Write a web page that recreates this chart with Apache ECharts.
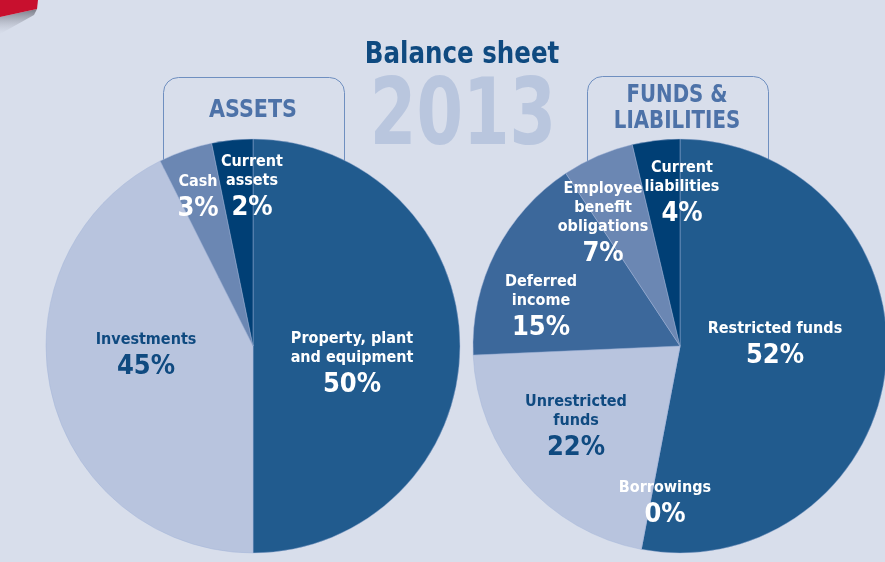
<!DOCTYPE html>
<html>
<head>
<meta charset="utf-8">
<script src="https://cdn.jsdelivr.net/npm/echarts@6/dist/echarts.min.js"></script>
<style>html,body{margin:0;padding:0;background:#d8deeb}#c{width:885px;height:562px}</style>
</head>
<body>
<div id="c"></div>
<script>
// ---- data ----
const assetNames = ['Property, plant\nand equipment', 'Investments', 'Cash', 'Current\nassets'];
const assetValues = [50, 42.6, 4.2, 3.2];          // slice shares as drawn
const assetLabels = ['50%', '45%', '3%', '2%'];    // printed percentages

const fundNames = ['Restricted funds', 'Borrowings', 'Unrestricted\nfunds', 'Deferred\nincome', 'Employee\nbenefit\nobligations', 'Current\nliabilities'];
const fundValues = [53, 0, 21.3, 16.4, 5.6, 3.7];
const fundLabels = ['52%', '0%', '22%', '15%', '7%', '4%'];

const titleText = 'Balance sheet';
const yearText = '2013';

// ---- styles ----
const FONT = "'Liberation Sans Narrow', 'DejaVu Sans Condensed', 'Open Sans', sans-serif";
const NAVY = '#0f4a80';
const assetColors = ['#215b8e', '#b8c4de', '#6b87b3', '#003f75'];
const assetDark = [true, false, true, true];
const fundColors = ['#215b8e', '#215b8e', '#b8c4de', '#3c689b', '#6b87b3', '#003f75'];
const fundDark = [true, true, false, true, true, true];
const R = 207;
const leftCenter = [253, 346];
const rightCenter = [680, 346];
// label block placement (offset of block top-center from pie center)
const assetNudge = [[99, -17], [-107, -16], [-55, -174], [-1, -194]];
const fundNudge = [[95, -27], [-15, 132], [-104, 46], [-139, -74], [-77, -167], [2, -188]];

function makePie(names, values, labels, colors, dark, center, nudge) {
  return {
    type: 'pie',
    radius: R,
    center: center,
    startAngle: 90,
    clockwise: true,
    silent: true,
    avoidLabelOverlap: false,
    minShowLabelAngle: 0,
    itemStyle: { borderColor: 'rgba(160,180,215,0.55)', borderWidth: 0.8 },
    label: {
      show: true,
      position: 'inside',
      formatter: function (p) {
        const d = dark[p.dataIndex];
        const lines = names[p.dataIndex].split('\n').map(l => '{' + (d ? 'nW' : 'nD') + '|' + l + '}');
        lines.push('{' + (d ? 'pW' : 'pD') + '|' + labels[p.dataIndex] + '}');
        return lines.join('\n');
      },
      rich: {
        nW: { color: '#ffffff', fontFamily: FONT, fontWeight: 'bold', fontSize: 16, lineHeight: 19, align: 'center' },
        nD: { color: NAVY, fontFamily: FONT, fontWeight: 'bold', fontSize: 16, lineHeight: 19, align: 'center' },
        pW: { color: '#ffffff', fontFamily: FONT, fontWeight: 'bold', fontSize: 27, lineHeight: 36, align: 'center' },
        pD: { color: NAVY, fontFamily: FONT, fontWeight: 'bold', fontSize: 27, lineHeight: 36, align: 'center' }
      }
    },
    labelLine: { show: false },
    labelLayout: function (params) {
      const o = nudge[params.dataIndex];
      return { x: center[0] + o[0], y: center[1] + o[1], align: 'center', verticalAlign: 'top' };
    },
    emphasis: { disabled: true },
    data: names.map((n, i) => ({ name: n, value: values[i], itemStyle: { color: colors[i] } }))
  };
}

const chart = echarts.init(document.getElementById('c'), null, { renderer: 'canvas' });
chart.setOption({
  backgroundColor: '#d8deeb',
  animation: false,
  graphic: [
    { type: 'rect', z: 0, shape: { x: 163.5, y: 77.5, width: 181, height: 200, r: 15 },
      style: { fill: 'none', stroke: '#6f8fc0', lineWidth: 1 } },
    { type: 'rect', z: 0, shape: { x: 587.5, y: 76.5, width: 181, height: 200, r: 15 },
      style: { fill: 'none', stroke: '#6f8fc0', lineWidth: 1 } },
    { type: 'text', z: 0, x: 463, y: 120, scaleX: 0.8,
      style: { text: yearText, fill: '#b9c6de', font: 'bold 93px ' + FONT, align: 'center', verticalAlign: 'middle' } },
    { type: 'text', z: 1, x: 462, y: 55, scaleX: 0.88,
      style: { text: titleText, fill: NAVY, font: 'bold 31px ' + FONT, align: 'center', verticalAlign: 'middle' } },
    { type: 'text', z: 1, x: 253, y: 110, scaleX: 0.92,
      style: { text: 'ASSETS', fill: '#4d72a8', font: 'bold 25px ' + FONT, align: 'center', verticalAlign: 'middle' } },
    { type: 'text', z: 1, x: 677, y: 108, scaleX: 0.88,
      style: { text: 'FUNDS &\nLIABILITIES', fill: '#4d72a8', font: 'bold 25px ' + FONT, align: 'center', verticalAlign: 'middle', lineHeight: 26 } },
    { type: 'polygon', z: 10, shape: { points: [[0, 17], [37, 9], [34, 15], [0, 34]] },
      style: { fill: new echarts.graphic.LinearGradient(0, 0, 0, 1, [
        { offset: 0, color: 'rgba(90,90,100,0.75)' }, { offset: 1, color: 'rgba(170,175,190,0)' }]) } },
    { type: 'polygon', z: 11, shape: { points: [[0, 0], [38, 0], [37, 9], [0, 17]] },
      style: { fill: '#c8102e' } }
  ],
  series: [
    makePie(assetNames, assetValues, assetLabels, assetColors, assetDark, leftCenter, assetNudge),
    makePie(fundNames, fundValues, fundLabels, fundColors, fundDark, rightCenter, fundNudge)
  ]
});
</script>
</body>
</html>
